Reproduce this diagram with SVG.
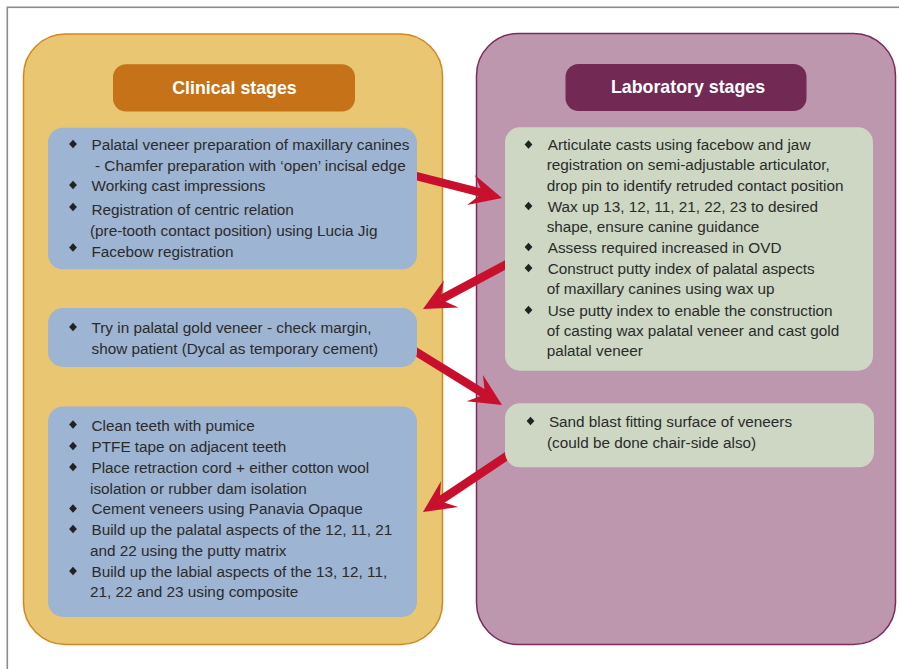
<svg xmlns="http://www.w3.org/2000/svg" xmlns:xlink="http://www.w3.org/1999/xlink" width="899" height="669" viewBox="0 0 899 669">
<style>
.frame{fill:none;stroke:#8c8c8c;stroke-width:1.6}
.clin{fill:#e8c672;stroke:#d4861f;stroke-width:1.5}
.lab{fill:#bd97ae;stroke:#7b2c5c;stroke-width:1.5}
.chead{fill:#c57219}
.lhead{fill:#722a55}
.blue{fill:#9db4d2}
.green{fill:#cdd7c4}
.title{font-family:"Liberation Sans",Arial,sans-serif;font-weight:bold;font-size:17.8px;fill:#ffffff;text-anchor:middle}
.t{font-family:"Liberation Sans",Arial,sans-serif;font-size:15.3px;fill:#2b2b2b}
.b{fill:#222}
.arrow{stroke:#c8102e;stroke-width:8.5;fill:none;marker-end:url(#ah)}
</style>
<defs>
<path id="bul" d="M0,-4.3 L3.9,0 L0,4.3 L-3.9,0 Z"/>
<marker id="ah" markerUnits="userSpaceOnUse" viewBox="-33 -17 35 34" refX="-20" refY="0" markerWidth="35" markerHeight="34" orient="auto">
<path d="M0,0 L-32,-15.5 L-20,0 L-32,15.5 Z" fill="#c8102e"/>
</marker>
</defs>
<rect width="899" height="669" fill="#ffffff"/>
<rect class="frame" x="7.3" y="7.3" width="910" height="700"/>

<g id="clinical-stages">
<rect class="clin" x="23.5" y="34" width="419" height="610.5" rx="42"/>
<rect class="chead" x="113" y="64.3" width="242" height="47.2" rx="13"/>
<text class="title" x="234.5" y="94.3">Clinical stages</text>
</g>

<g id="laboratory-stages">
<rect class="lab" x="476.5" y="33.5" width="419" height="611" rx="42"/>
<rect class="lhead" x="565.5" y="64" width="241" height="47" rx="13"/>
<text class="title" x="688" y="92.8">Laboratory stages</text>
</g>

<g id="connectors">
<line class="arrow" x1="414" y1="175.5" x2="482.6" y2="193"/>
<line class="arrow" x1="507" y1="264" x2="440.6" y2="299.5"/>
<line class="arrow" x1="414" y1="350.5" x2="485" y2="394.4"/>
<line class="arrow" x1="509" y1="454.5" x2="439.6" y2="500.9"/>
</g>

<g id="clinical-1">
<rect class="blue" x="48" y="127.7" width="369" height="141.6" rx="15"/>
<use href="#bul" class="b" x="73" y="144"/>
<text class="t" x="91.5" y="150">Palatal veneer preparation of maxillary canines</text>
<text class="t" x="95" y="170.7">- Chamfer preparation with ‘open’ incisal edge</text>
<use href="#bul" class="b" x="73" y="185"/>
<text class="t" x="91.5" y="191">Working cast impressions</text>
<use href="#bul" class="b" x="73" y="207"/>
<text class="t" x="91.5" y="215">Registration of centric relation</text>
<text class="t" x="90" y="235.7">(pre-tooth contact position) using Lucia Jig</text>
<use href="#bul" class="b" x="73" y="247.5"/>
<text class="t" x="91.5" y="256.7">Facebow registration</text>
</g>

<g id="clinical-2">
<rect class="blue" x="48" y="308" width="369" height="59" rx="15"/>
<use href="#bul" class="b" x="73" y="327"/>
<text class="t" x="91.5" y="333">Try in palatal gold veneer - check margin,</text>
<text class="t" x="91.5" y="354">show patient (Dycal as temporary cement)</text>
</g>

<g id="clinical-3">
<rect class="blue" x="48" y="406.5" width="369" height="210.5" rx="15"/>
<use href="#bul" class="b" x="73" y="424.5"/>
<text class="t" x="91.5" y="430.5">Clean teeth with pumice</text>
<use href="#bul" class="b" x="73" y="446"/>
<text class="t" x="91.5" y="451.7">PTFE tape on adjacent teeth</text>
<use href="#bul" class="b" x="73" y="467"/>
<text class="t" x="91.5" y="472.7">Place retraction cord + either cotton wool</text>
<text class="t" x="90" y="493.5">isolation or rubber dam isolation</text>
<use href="#bul" class="b" x="73" y="508.5"/>
<text class="t" x="91.5" y="514.3">Cement veneers using Panavia Opaque</text>
<use href="#bul" class="b" x="73" y="529"/>
<text class="t" x="91.5" y="535">Build up the palatal aspects of the 12, 11, 21</text>
<text class="t" x="90" y="555.7">and 22 using the putty matrix</text>
<use href="#bul" class="b" x="73" y="571"/>
<text class="t" x="91.5" y="576.7">Build up the labial aspects of the 13, 12, 11,</text>
<text class="t" x="90" y="597.3">21, 22 and 23 using composite</text>
</g>

<g id="lab-1">
<rect class="green" x="505" y="127.3" width="368" height="243.4" rx="15"/>
<use href="#bul" class="b" x="528.5" y="144.5"/>
<text class="t" x="547.7" y="150">Articulate casts using facebow and jaw</text>
<text class="t" x="546.7" y="170.3">registration on semi-adjustable articulator,</text>
<text class="t" x="546.7" y="190.7">drop pin to identify retruded contact position</text>
<use href="#bul" class="b" x="528.5" y="206"/>
<text class="t" x="547.7" y="211.7">Wax up 13, 12, 11, 21, 22, 23 to desired</text>
<text class="t" x="546.7" y="232.3">shape, ensure canine guidance</text>
<use href="#bul" class="b" x="528.5" y="247"/>
<text class="t" x="547.7" y="252.7">Assess required increased in OVD</text>
<use href="#bul" class="b" x="528.5" y="268"/>
<text class="t" x="547.7" y="274">Construct putty index of palatal aspects</text>
<text class="t" x="546.7" y="294.3">of maxillary canines using wax up</text>
<use href="#bul" class="b" x="528.5" y="310"/>
<text class="t" x="547.7" y="315.7">Use putty index to enable the construction</text>
<text class="t" x="546.7" y="336">of casting wax palatal veneer and cast gold</text>
<text class="t" x="546.7" y="356.3">palatal veneer</text>
</g>

<g id="lab-2">
<rect class="green" x="505" y="403.3" width="369" height="64" rx="15"/>
<use href="#bul" class="b" x="530.5" y="421"/>
<text class="t" x="548.9" y="426.7">Sand blast fitting surface of veneers</text>
<text class="t" x="547" y="447.7">(could be done chair-side also)</text>
</g>
</svg>
